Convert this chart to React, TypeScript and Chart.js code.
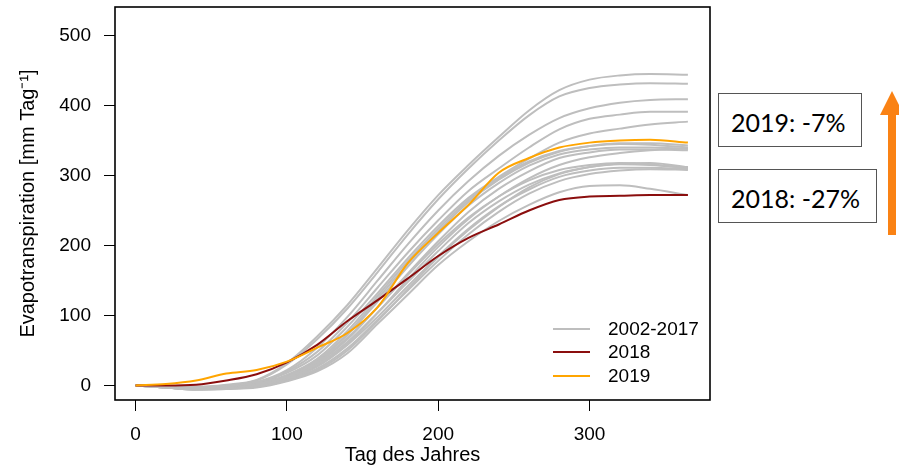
import React, { useEffect, useRef } from "react";
import { Chart, registerables } from "chart.js";

Chart.register(...registerables);

// ---- data ----
const days = [0, 20, 40, 60, 80, 100, 120, 140, 160, 180, 200, 220, 240, 260, 280, 300, 320, 340, 365];

const et2002 = [0, -1, -2, 1, 8, 32, 70, 115, 168, 222, 272, 315, 355, 393, 422, 437, 443, 445, 444];
const et2003 = [0, -3, -6, -5, -3, 6, 20, 46, 88, 130, 172, 206, 235, 258, 276, 285, 286, 281, 272];
const et2004 = [0, -2, -3, -1, 5, 22, 54, 98, 150, 202, 250, 292, 328, 358, 382, 396, 404, 408, 409];
const et2005 = [0, -2, -4, -3, 0, 12, 33, 68, 112, 158, 202, 240, 270, 293, 308, 315, 318, 316, 310];
const et2006 = [0, -2, -4, -3, 2, 15, 38, 78, 128, 178, 224, 265, 296, 320, 335, 342, 345, 344, 340];
const et2007 = [0, -1, -2, 0, 7, 30, 66, 110, 162, 216, 266, 310, 350, 386, 413, 425, 430, 432, 431];
const et2008 = [0, -3, -5, -4, -1, 10, 30, 62, 104, 148, 192, 232, 263, 287, 303, 312, 316, 315, 311];
const et2009 = [0, -2, -3, -2, 4, 20, 48, 90, 140, 190, 236, 278, 310, 340, 366, 381, 387, 391, 391];
const et2010 = [0, -2, -4, -3, 1, 13, 35, 72, 120, 170, 216, 257, 289, 314, 330, 337, 340, 340, 338];
const et2011 = [0, -2, -4, -2, 3, 18, 43, 84, 132, 182, 228, 268, 298, 324, 347, 360, 367, 373, 377];
const et2012 = [0, -3, -5, -4, -2, 9, 27, 58, 98, 142, 185, 224, 256, 280, 298, 307, 311, 311, 309];
const et2013 = [0, -3, -5, -4, 0, 11, 32, 66, 112, 160, 206, 248, 281, 306, 325, 333, 337, 337, 336];
const et2014 = [0, -3, -6, -5, -2, 8, 24, 53, 94, 136, 178, 216, 248, 274, 292, 302, 307, 309, 308];
const et2015 = [0, -2, -5, -4, -1, 9, 28, 60, 104, 152, 198, 238, 270, 296, 315, 326, 332, 336, 339];
const et2016 = [0, -3, -5, -4, -2, 7, 22, 50, 92, 138, 183, 222, 255, 283, 302, 312, 317, 318, 312];
const et2017 = [0, -2, -4, -2, 2, 14, 36, 74, 124, 174, 220, 262, 294, 318, 334, 342, 346, 346, 343];

const et2018 = [0, 0, 1, 7, 16, 33, 58, 92, 122, 153, 185, 211, 230, 250, 265, 270, 271, 272, 272];
const et2019 = [0, 2, 7, 17, 22, 34, 54, 75, 112, 175, 218, 258, 304, 325, 340, 347, 350, 351, 347];

const greySeries = [et2002, et2003, et2004, et2005, et2006, et2007, et2008, et2009, et2010, et2011, et2012, et2013, et2014, et2015, et2016, et2017];

const xTicks = [0, 100, 200, 300];
const yTicks = [0, 100, 200, 300, 400, 500];
const legendLabels = ["2002-2017", "2018", "2019"];
const boxTexts = ["2019: -7%", "2018: -27%"];

const GREY = "#BEBEBE";
const RED = "#8B0E0E";
const ORANGE = "#FFA500";
const ARROW = "#FA8214";
const FONT = "'Liberation Sans', Arial, Helvetica, sans-serif";

const toPts = (arr: number[]) => arr.map((v, i) => ({ x: days[i], y: v }));

const rPlugin = {
  id: "rStyle",
  afterDatasetsDraw(chart: any) {
    const { ctx, chartArea: a } = chart;
    ctx.save();
    ctx.strokeStyle = "#000";
    ctx.lineWidth = 1.6;
    ctx.strokeRect(a.left, a.top, a.right - a.left, a.bottom - a.top);
    const cols = [GREY, RED, ORANGE];
    const rows = [a.bottom - 71, a.bottom - 48, a.bottom - 24];
    ctx.font = `19px ${FONT}`;
    ctx.textBaseline = "middle";
    ctx.textAlign = "left";
    legendLabels.forEach((lab, i) => {
      ctx.strokeStyle = cols[i];
      ctx.lineWidth = 2;
      ctx.beginPath();
      ctx.moveTo(a.right - 157, rows[i]);
      ctx.lineTo(a.right - 120, rows[i]);
      ctx.stroke();
      ctx.fillStyle = "#000";
      ctx.fillText(lab, a.right - 102, rows[i] + 1);
    });
    ctx.restore();
  },
};

export default function App() {
  const ref = useRef<HTMLCanvasElement | null>(null);

  useEffect(() => {
    if (!ref.current) return;
    const base = { borderWidth: 2, pointRadius: 0, cubicInterpolationMode: "monotone", fill: false };
    const datasets: any[] = [
      { ...base, label: "2019", data: toPts(et2019), borderColor: ORANGE, order: 0 },
      { ...base, label: "2018", data: toPts(et2018), borderColor: RED, order: 1 },
      ...greySeries.map((s, i) => ({ ...base, label: `${2002 + i}`, data: toPts(s), borderColor: GREY, order: 2 })),
    ];

    const chart = new Chart(ref.current, {
      type: "line",
      data: { datasets },
      options: {
        animation: false,
        responsive: false,
        devicePixelRatio: 1,
        layout: { padding: { left: 0, right: 189, top: 7, bottom: 0 } },
        plugins: { legend: { display: false }, tooltip: { enabled: false } },
        scales: {
          x: {
            type: "linear",
            min: -13.6,
            max: 379.6,
            afterBuildTicks: (s: any) => {
              s.ticks = xTicks.map((v) => ({ value: v }));
            },
            afterFit: (s: any) => {
              s.height = 67;
              s.paddingLeft = 0;
              s.paddingRight = 0;
            },
            grid: { drawOnChartArea: false, drawTicks: true, tickLength: 11, color: "#000", lineWidth: 1 },
            border: { display: false },
            ticks: { color: "#000", font: { family: FONT, size: 19 }, padding: 12, maxRotation: 0, autoSkip: false },
            title: { display: true, text: "Tag des Jahres", color: "#000", font: { family: FONT, size: 20 }, padding: { top: 0, bottom: 0 } },
          },
          y: {
            type: "linear",
            min: -20.8,
            max: 540.8,
            afterBuildTicks: (s: any) => {
              s.ticks = yTicks.map((v) => ({ value: v }));
            },
            afterFit: (s: any) => {
              s.width = 115;
              s.paddingTop = 0;
              s.paddingBottom = 0;
            },
            grid: { drawOnChartArea: false, drawTicks: true, tickLength: 11, color: "#000", lineWidth: 1 },
            border: { display: false },
            ticks: { color: "#000", font: { family: FONT, size: 19 }, padding: 13 },
            title: { display: true, text: "Evapotranspiration [mm Tag⁻¹]", color: "#000", font: { family: FONT, size: 20 }, padding: { top: 16, bottom: 0 } },
          },
        },
      },
      plugins: [rPlugin],
    });
    return () => chart.destroy();
  }, []);

  const boxStyle: React.CSSProperties = {
    position: "absolute",
    left: 718,
    height: 54,
    boxSizing: "border-box",
    border: "1px solid #555",
    background: "#fff",
    fontFamily: "Lato, 'Open Sans', sans-serif",
    fontSize: 25,
    color: "#000",
    display: "flex",
    alignItems: "center",
    paddingLeft: 12,
    paddingTop: 4,
    whiteSpace: "nowrap",
  };

  return (
    <div style={{ position: "fixed", left: 0, top: 0, width: 899, height: 467, background: "#fff", overflow: "hidden" }}>
      <canvas ref={ref} width={899} height={467} style={{ position: "absolute", left: 0, top: 0, width: 899, height: 467 }} />
      <div style={{ ...boxStyle, top: 93, width: 144 }}>{boxTexts[0]}</div>
      <div style={{ ...boxStyle, top: 169, width: 159 }}>{boxTexts[1]}</div>
      <svg width={899} height={467} style={{ position: "absolute", left: 0, top: 0, pointerEvents: "none" }}>
        <polygon points="880,115 892,91 904,115" fill={ARROW} />
        <rect x={888} y={114} width={8} height={121} fill={ARROW} />
      </svg>
    </div>
  );
}
